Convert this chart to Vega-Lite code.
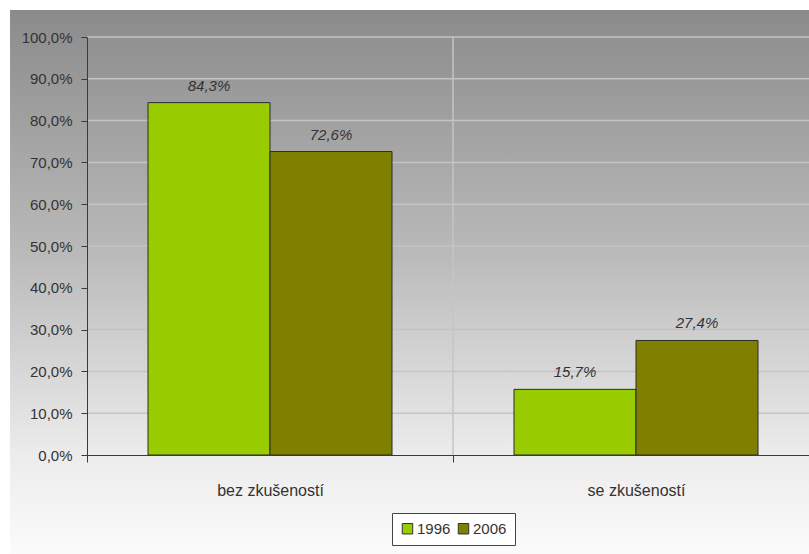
{
  "$schema": "https://vega.github.io/schema/vega-lite/v6.json",
  "width": 722,
  "height": 418,
  "autosize": {"type": "none"},
  "padding": {"left": 87, "top": 37, "right": 0, "bottom": 99},
  "background": "white",
  "config": {
    "view": {"stroke": null},
    "font": "Liberation Sans, Arial, sans-serif",
    "locale": {"number": {"decimal": ",", "thousands": " ", "grouping": [3], "currency": ["", " Kč"]}}
  },
  "resolve": {"scale": {"x": "independent"}, "axis": {"x": "independent"}},
  "layer": [
    {
      "data": {"values": [{"v": 1}]},
      "mark": {
        "type": "rect",
        "fill": {
          "gradient": "linear", "x1": 0, "y1": 0, "x2": 0, "y2": 1,
          "stops": [
            {"offset": 0, "color": "#8b8b8b"},
            {"offset": 0.45, "color": "#bababa"},
            {"offset": 0.818, "color": "#ececec"},
            {"offset": 1, "color": "#fbfbfb"}
          ]
        }
      },
      "encoding": {
        "x": {"datum": -0.1066, "type": "quantitative", "scale": {"domain": [0, 1]}, "axis": null},
        "x2": {"datum": 1},
        "y": {"datum": 1.0646, "type": "quantitative", "scale": {"domain": [0, 1]}, "title": null},
        "y2": {"datum": -0.237}
      }
    },
    {
      "data": {
        "values": [
          {"cat": "bez zkušeností", "year": "1996", "value": 0.843},
          {"cat": "bez zkušeností", "year": "2006", "value": 0.726},
          {"cat": "se zkušeností", "year": "1996", "value": 0.157},
          {"cat": "se zkušeností", "year": "2006", "value": 0.274}
        ]
      },
      "layer": [
        {
          "data": {"values": [{"g": 0.1}, {"g": 0.2}, {"g": 0.3}, {"g": 0.4}, {"g": 0.5}, {"g": 0.6}, {"g": 0.7}, {"g": 0.8}, {"g": 0.9}, {"g": 1.0}]},
          "mark": {"type": "rule", "color": "#c4c4c4", "strokeWidth": 1.5},
          "encoding": {
            "y": {"field": "g", "type": "quantitative", "scale": {"domain": [0, 1]}, "title": null}
          }
        },
        {
          "data": {"values": [{"cat": "se zkušeností"}]},
          "mark": {"type": "rule", "color": "#c4c4c4", "strokeWidth": 1.5},
          "encoding": {
            "x": {"field": "cat", "type": "nominal", "bandPosition": 0, "title": null,
                  "scale": {"domain": ["bez zkušeností", "se zkušeností"], "range": [0, 732], "paddingInner": 0, "paddingOuter": 0}}
          }
        },
        {
          "mark": {"type": "bar", "stroke": "#2b2b2b", "strokeWidth": 1},
          "encoding": {
            "x": {"field": "cat", "type": "nominal",
                  "scale": {"domain": ["bez zkušeností", "se zkušeností"], "range": [0, 732], "paddingInner": 0, "paddingOuter": 0},
                  "axis": {"title": null, "grid": false, "tickBand": "extent", "zindex": 1, "domainColor": "#3a3a3a", "tickColor": "#3a3a3a", "tickSize": 7, "labelFontSize": 16, "labelColor": "#333333", "labelPadding": 28, "labelAngle": 0, "labelAlign": "center"}},
            "xOffset": {"field": "year", "type": "nominal", "scale": {"domain": ["1996", "2006"], "paddingInner": 0, "paddingOuter": 0.5}},
            "y": {"field": "value", "type": "quantitative",
                  "scale": {"domain": [0, 1]},
                  "axis": {"title": null, "values": [0, 0.1, 0.2, 0.3, 0.4, 0.5, 0.6, 0.7, 0.8, 0.9, 1.0], "format": ".1%", "grid": false, "zindex": 1, "domainColor": "#3a3a3a", "tickColor": "#3a3a3a", "tickSize": 6, "labelFontSize": 15, "labelColor": "#333333", "labelPadding": 9}},
            "color": {"field": "year", "type": "nominal",
                      "scale": {"domain": ["1996", "2006"], "range": ["#99cc00", "#808000"]},
                      "legend": {"title": null, "orient": "none", "legendX": 305, "legendY": 476, "direction": "horizontal", "symbolType": "square", "symbolSize": 110, "symbolStrokeColor": "#333333", "symbolStrokeWidth": 1, "labelFontSize": 15, "labelColor": "#333333", "strokeColor": "#444444", "fillColor": "white", "padding": 8, "columnPadding": 5, "labelOffset": 2}}
          }
        },
        {
          "mark": {"type": "text", "fontStyle": "italic", "fontSize": 15, "color": "#333333", "dy": -9, "baseline": "bottom"},
          "encoding": {
            "x": {"field": "cat", "type": "nominal", "title": null},
            "xOffset": {"field": "year", "type": "nominal"},
            "y": {"field": "value", "type": "quantitative", "title": null},
            "text": {"field": "value", "type": "quantitative", "format": ".1%"}
          }
        }
      ]
    }
  ]
}
